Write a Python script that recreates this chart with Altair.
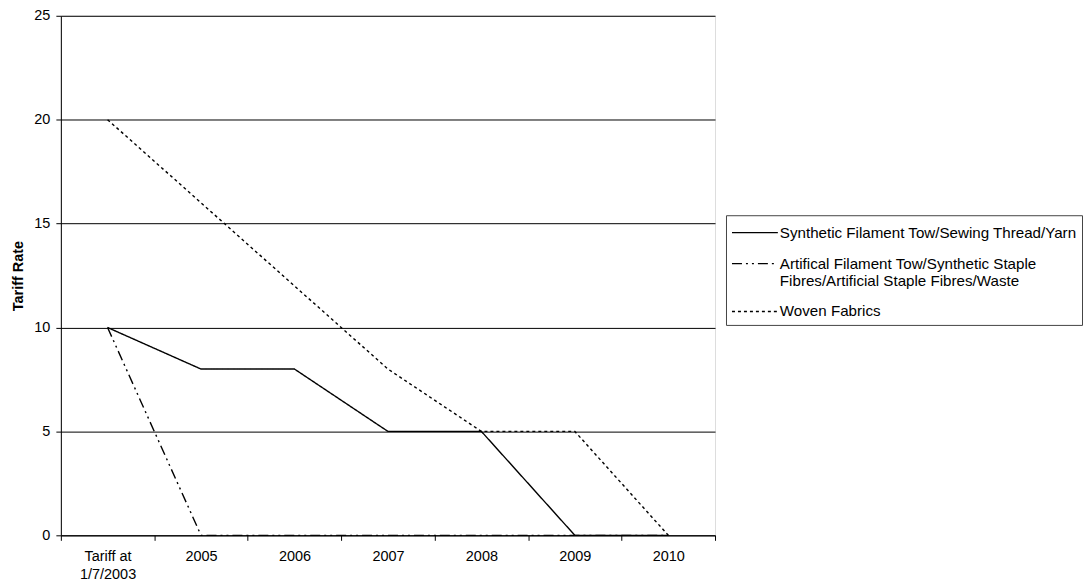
import altair as alt
import pandas as pd

categories = ["Tariff at|1/7/2003", "2005", "2006", "2007", "2008", "2009", "2010"]
series_names = [
    "Synthetic Filament Tow/Sewing Thread/Yarn",
    "Artifical Filament Tow/Synthetic Staple Fibres/Artificial Staple Fibres/Waste",
    "Woven Fabrics",
]
synthetic = [10, 8, 8, 5, 5, 0, 0]
artificial = [10, 0, 0, 0, 0, 0, 0]
woven = [20, 16, 12, 8, 5, 5, 0]

rows = []
for name, vals in zip(series_names, [synthetic, artificial, woven]):
    for i, v in enumerate(vals):
        rows.append({"idx": i, "series": name, "rate": v})
df = pd.DataFrame(rows)

font = "Liberation Sans"
fs = 14.5
cat_array = "[" + ",".join("'" + c + "'" for c in categories) + "]"
label_expr = f"datum.value % 1 != 0 ? '' : split({cat_array}[datum.value], '|')"
tick_vals = [i - 0.5 for i in range(len(categories) + 1)] + list(range(len(categories)))

long_name = series_names[1]
legend_label_expr = (
    f"datum.label == '{long_name}' ? "
    "['Artifical Filament Tow/Synthetic Staple', 'Fibres/Artificial Staple Fibres/Waste'] : datum.label"
)

chart = alt.Chart(df).mark_line(color="black", strokeWidth=1.4).encode(
    x=alt.X(
        "idx:Q",
        scale=alt.Scale(domain=[-0.5, len(categories) - 0.5], nice=False, zero=False),
        axis=alt.Axis(
            values=tick_vals,
            labelExpr=label_expr,
            title=None,
            grid=False,
            tickOpacity={"condition": {"test": "datum.value % 1 == 0", "value": 0}, "value": 1},
            tickSize=5,
            tickColor="black",
            domainColor="black",
            labelColor="black",
            labelFont=font,
            labelFontSize=fs,
            labelLineHeight=18,
            labelAngle=0,
            labelPadding=9,
            labelBound=False,
            labelOverlap=False,
            labelFlush=False,
        ),
    ),
    y=alt.Y(
        "rate:Q",
        scale=alt.Scale(domain=[0, 25], nice=False),
        axis=alt.Axis(
            values=[0, 5, 10, 15, 20, 25],
            title="Tariff Rate",
            titleFont=font,
            titleFontSize=fs,
            titleFontWeight="bold",
            titleColor="black",
            titlePadding=8,
            grid=True,
            gridColor="black",
            gridWidth=1,
            tickColor="black",
            tickSize=5,
            domainColor="black",
            labelColor="black",
            labelFont=font,
            labelFontSize=fs,
            labelPadding=6,
        ),
    ),
    strokeDash=alt.StrokeDash(
        "series:N",
        scale=alt.Scale(domain=series_names, range=[[1, 0], [10, 4, 2, 4, 2, 4], [3, 3]]),
        sort=series_names,
        legend=alt.Legend(
            title=None,
            orient="none",
            legendX=667,
            legendY=200,
            symbolType="M-1,0H3",
            symbolSize=529,
            symbolStrokeColor="black",
            symbolStrokeWidth=1.4,
            labelExpr=legend_label_expr,
            labelFont=font,
            labelFontSize=15.2,
            labelColor="black",
            labelLimit=500,
            labelOffset=24,
            rowPadding=10,
            strokeColor="#444",
            padding=5,
            cornerRadius=0,
        ),
    ),
).properties(
    width=656,
    height=521,
    autosize=alt.AutoSizeParams(type="none"),
    padding={"left": 53, "top": 7, "right": 370, "bottom": 45},
).configure_view(stroke=None).configure(background="white")

chart.save("out.html", embed_options={"renderer": "svg", "actions": False})
